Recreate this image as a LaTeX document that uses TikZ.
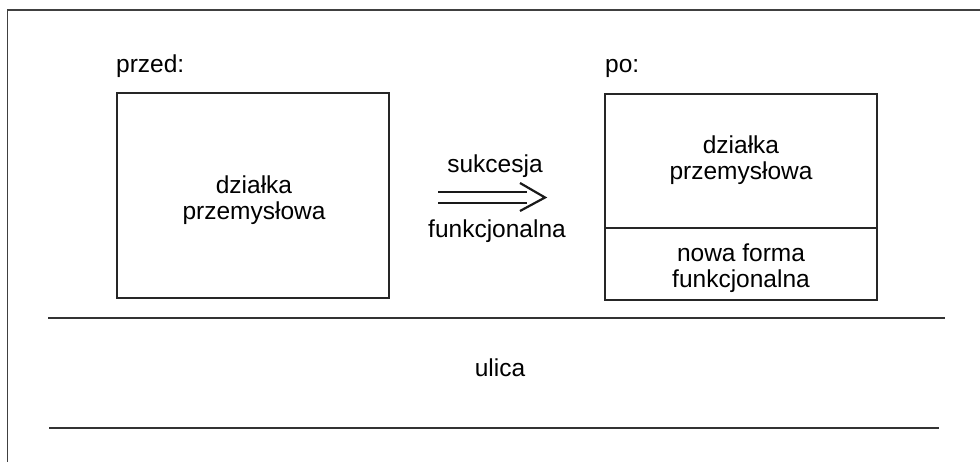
\documentclass[tikz,border=0pt]{standalone}
\usepackage{fontspec}
\setmainfont{Liberation Sans}
\begin{document}
\begin{tikzpicture}[x=1pt,y=-1pt,
  lbl/.style={inner sep=0pt, font=\fontsize{24.5}{26.5}\selectfont, align=center, anchor=base},
  plot/.style={draw=black!85, line width=2.2pt, inner sep=0pt},
  road/.style={draw=black!80, line width=2.2pt},
  frame/.style={draw=black!75, line width=1.3pt},
  arr/.style={draw=black!90, line width=2.2pt}]
\useasboundingbox (0,0) rectangle (980,462);
% outer frame (cropped)
\coordinate (f1) at (7.5,462);
\coordinate (f2) at (7.5,10);
\coordinate (f3) at (980,10);
\draw[frame] (f1) -- (f2) -- (f3);
% before
\node[lbl, anchor=base west] (przed) at (116,73) {przed:};
\node[plot, minimum width=272pt, minimum height=205pt] (before) at (253,195.5) {};
\node[lbl] (dz1) at (254,220) {działka\\przemysłowa};
% after
\node[lbl, anchor=base west] (po) at (605,73) {po:};
\node[plot, minimum width=272pt, minimum height=134pt] (upper) at (741,161) {};
\node[plot, minimum width=272pt, minimum height=72pt] (lower) at (741,264) {};
\node[lbl] (dz2) at (741,180) {działka\\przemysłowa};
\node[lbl] (nf) at (741,288) {nowa forma\\funkcjonalna};
% arrow
\node[lbl] (suk) at (495,173) {sukcesja};
\node[lbl] (fun) at (497,238) {funkcjonalna};
\coordinate (a1) at (438,192);
\coordinate (a2) at (527,192);
\coordinate (b1) at (438,203);
\coordinate (b2) at (527,203);
\coordinate (c1) at (520,183);
\coordinate (c2) at (545,197.5);
\coordinate (c3) at (520,211);
\draw[arr] (a1) -- (a2);
\draw[arr] (b1) -- (b2);
\draw[arr] (c1) -- (c2) -- (c3);
% street
\coordinate (s1) at (48,318);
\coordinate (s2) at (945,318);
\coordinate (s3) at (49,428);
\coordinate (s4) at (939,428);
\draw[road] (s1) -- (s2);
\draw[road] (s3) -- (s4);
\node[lbl] (ul) at (500,377) {ulica};
\end{tikzpicture}
\end{document}
